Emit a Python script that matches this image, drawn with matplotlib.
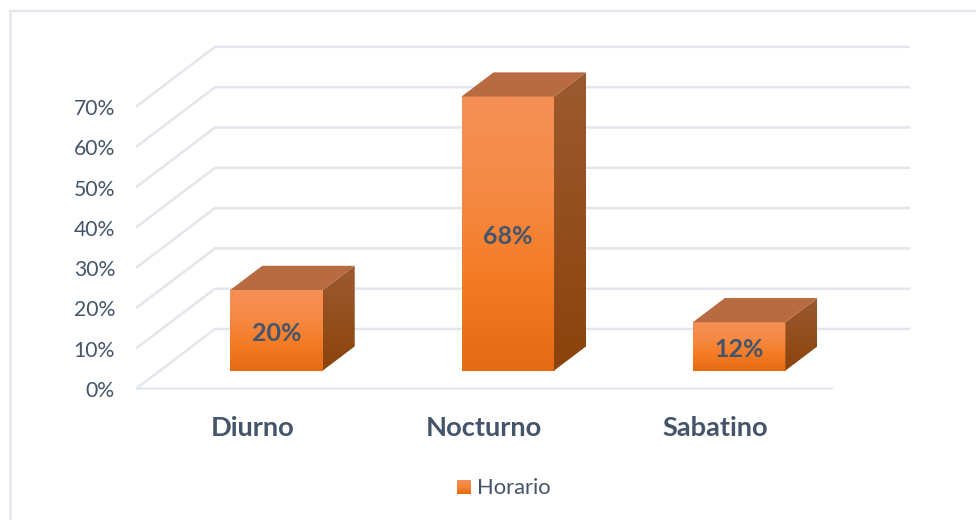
import numpy as np
import matplotlib
matplotlib.use("Agg")
import matplotlib.pyplot as plt
from matplotlib.patches import Polygon

categories = ["Diurno", "Nocturno", "Sabatino"]
values = [20, 68, 12]
value_labels = ["20%", "68%", "12%"]
ticks = [0, 10, 20, 30, 40, 50, 60, 70]
legend_label = "Horario"

TEXT = "#44546A"
GRID = "#E3E6EC"
FACE = ["#F58F56", "#F58A45", "#F47B25", "#E56A14"]
SIDE = ["#9C5A30", "#8B430C"]
W, H = 976, 520

# px per unit of the front floor plane
x0_px, y0_px = 137, 388
sx, sy = 231.33, 4.03
# depth of the box in data units (full wall depth)
dx, dy = 78 / sx, 59 / sy
bar_w = 92.5 / sx
d_front, d_back = 0.295, 0.705


def gradient(ax, x1, x2, y1, y2, colors, clip=None):
    # vertical gradient through a few colours
    cmap = matplotlib.colors.LinearSegmentedColormap.from_list("g", colors)
    img = cmap(np.linspace(0, 1, 64))[:, None, :3]
    im = ax.imshow(img, extent=(x1, x2, y1, y2), origin="upper", aspect="auto",
                   interpolation="bilinear", zorder=3)
    if clip is not None:
        im.set_clip_path(clip)
    return im


plt.rcParams["font.family"] = ["Lato", "DejaVu Sans"]

fig = plt.figure(figsize=(W / 100, H / 100), dpi=100)
ax = fig.add_axes([0, 0, 1, 1])
ax.set_xlim(-x0_px / sx, (W - x0_px) / sx)
ax.set_ylim((y0_px - H) / sy, y0_px / sy)
ax.axis("off")

# outer frame
fx1, fx2 = ax.get_xlim()
fy1, fy2 = ax.get_ylim()
ax.plot([fx1 + 10.5 / sx, fx1 + 10.5 / sx], [fy1, fy2 - 11 / sy], color=GRID, lw=1.8, zorder=1)
ax.plot([fx1 + 10.5 / sx, fx2], [fy2 - 11 / sy, fy2 - 11 / sy], color=GRID, lw=1.5, zorder=1)

# walls
n = len(categories)
for t in ticks:
    ax.plot([0, dx, dx + n], [t, t + dy, t + dy], color=GRID, lw=1.8, zorder=1,
            solid_joinstyle="miter")
    ax.text(-22 / sx, t - 3 / sy, f"{t}%", ha="right", va="center", fontsize=15.2, color=TEXT)
ax.plot([0, n], [0, 0], color=GRID, lw=1.8, zorder=1)

# bars
for i, (name, v, lab) in enumerate(zip(categories, values, value_labels)):
    xl = i + 0.5 - bar_w / 2 + dx * d_front + 0.8 / sx
    xr = xl + bar_w
    yb = dy * d_front
    yt = yb + v
    ox = dx * (d_back - d_front)
    oy = dy * (d_back - d_front)

    gradient(ax, xl, xr, yb, yt, FACE)

    side = Polygon([(xr, yb), (xr + ox, yb + oy), (xr + ox, yt + oy), (xr, yt)],
                   closed=True, transform=ax.transData, fc="none", ec="none")
    ax.add_patch(side)
    gradient(ax, xr, xr + ox, yb, yt + oy, SIDE, clip=side)

    ax.add_patch(Polygon([(xl, yt), (xr, yt), (xr + ox, yt + oy), (xl + ox, yt + oy)],
                         closed=True, fc="#B86B40", ec="none", zorder=3))

    ax.text((xl + xr) / 2, yb + v / 2 - 3 / sy, lab, ha="center", va="center", fontsize=18,
            fontweight="bold", color=TEXT, zorder=5)
    ax.text(i + 0.5, -9.9, name, ha="center", va="center", fontsize=19.6,
            fontweight="bold", color=TEXT)

# legend
ly = (y0_px - 487) / sy
lx = (457 - x0_px) / sx
gradient(ax, lx, lx + 14 / sx, ly - 7 / sy, ly + 7 / sy, FACE)
ax.text((476.5 - x0_px) / sx, ly - 1 / sy, legend_label, ha="left", va="center", fontsize=15.8,
        color=TEXT)

ax.set_xlim(-x0_px / sx, (W - x0_px) / sx)
ax.set_ylim((y0_px - H) / sy, y0_px / sy)

fig.savefig("out.png", dpi=100)
